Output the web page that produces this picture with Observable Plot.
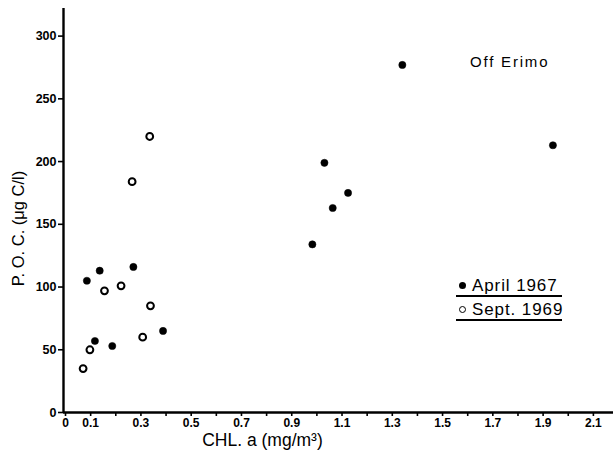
<!DOCTYPE html>
<html>
<head>
<meta charset="utf-8">
<script src="https://cdn.jsdelivr.net/npm/d3@7"></script>
<script src="https://cdn.jsdelivr.net/npm/@observablehq/plot@0.6"></script>
<style>
  html, body { margin: 0; padding: 0; background: #fff; }
  #wrap { position: relative; width: 613px; height: 462px; font-family: "Liberation Sans", "DejaVu Sans", sans-serif; }
  .note { position: absolute; color: #000; white-space: nowrap; }
  .leg { position: absolute; font-size: 17px; line-height: 18px; letter-spacing: 0.9px; border-bottom: 2px solid #000; width: 106px; white-space: nowrap; }
  .sym { display: inline-block; width: 7px; height: 7px; border-radius: 50%; margin: 0 6px 3px 3px; vertical-align: middle; box-sizing: border-box; }
</style>
</head>
<body>
<div id="wrap"></div>
<script>
// Data
const april1967Chl = [0.085, 0.136, 0.270, 0.117, 0.186, 0.388, 0.982, 1.030, 1.063, 1.124, 1.340, 1.939];
const april1967Poc = [105, 113, 116, 57, 53, 65, 134, 199, 163, 175, 277, 213];
const sept1969Chl = [0.335, 0.265, 0.155, 0.221, 0.338, 0.307, 0.097, 0.070];
const sept1969Poc = [220, 184, 97, 101, 85, 60, 50, 35];
const xTickValues = d3.range(0, 22).map(i => +(i / 10).toFixed(1));
const xTickLabels = [0, 0.1, 0.3, 0.5, 0.7, 0.9, 1.1, 1.3, 1.5, 1.7, 1.9, 2.1];
const yTickValues = [0, 50, 100, 150, 200, 250, 300];
const xLabel = "CHL. a (mg/m³)";
const yLabel = "P. O. C. (μg C/l)";
const seriesNames = ["April 1967", "Sept. 1969"];
const stationName = "Off Erimo";

const april = april1967Chl.map((x, i) => ({x, y: april1967Poc[i]}));
const sept = sept1969Chl.map((x, i) => ({x, y: sept1969Poc[i]}));

const xDomain = [-0.008, 2.18];
const yDomain = [0, 322];
const font = "Liberation Sans, DejaVu Sans, sans-serif";

const chart = Plot.plot({
  width: 613,
  height: 462,
  marginLeft: 63,
  marginRight: 0,
  marginTop: 8,
  marginBottom: 50,
  style: {fontFamily: font, background: "#fff", color: "#000", overflow: "visible"},
  x: {domain: xDomain},
  y: {domain: yDomain},
  marks: [
    Plot.ruleY([yDomain[0]], {stroke: "#000", strokeWidth: 2.4}),
    Plot.ruleX([xDomain[0]], {stroke: "#000", strokeWidth: 2.4}),
    Plot.axisX({
      ticks: xTickValues,
      tickSize: 4,
      tickPadding: 2,
      tickFormat: d => xTickLabels.some(v => Math.abs(v - d) < 1e-9) ? (d === 0 ? "0" : d3.format(".1f")(d)) : "",
      fontSize: 12,
      fontWeight: "bold",
      strokeWidth: 1.6,
      label: null
    }),
    Plot.axisY({
      ticks: yTickValues,
      tickSize: 5,
      tickPadding: 2,
      fontSize: 12.5,
      fontWeight: "bold",
      strokeWidth: 1.6,
      label: null
    }),
    Plot.text([xLabel], {frameAnchor: "bottom", textAnchor: "middle", dx: -76, dy: 33, fontSize: 17.5, fill: "#000", style: "letter-spacing: 1px"}),
    Plot.text([yLabel], {frameAnchor: "left", textAnchor: "middle", rotate: -90, dx: -45, dy: 18, fontSize: 16.5, fill: "#000", style: "letter-spacing: 0.8px"}),
    Plot.dot(april, {x: "x", y: "y", r: 3.6, fill: "#000", stroke: "#000", strokeWidth: 0.5}),
    Plot.dot(sept, {x: "x", y: "y", r: 3.4, fill: "#fff", stroke: "#000", strokeWidth: 2})
  ]
});

const wrap = document.getElementById("wrap");
wrap.appendChild(chart);

const note = document.createElement("div");
note.className = "note";
note.style.left = "470px";
note.style.top = "53px";
note.style.fontSize = "15px";
note.style.letterSpacing = "1.8px";
note.textContent = stationName;
wrap.appendChild(note);

seriesNames.forEach((name, i) => {
  const d = document.createElement("div");
  d.className = "leg";
  d.style.left = "456px";
  d.style.top = (277 + i * 24) + "px";
  const s = document.createElement("span");
  s.className = "sym";
  if (i === 0) { s.style.background = "#000"; }
  else { s.style.border = "1.6px solid #000"; s.style.background = "#fff"; }
  d.appendChild(s);
  d.appendChild(document.createTextNode(name));
  wrap.appendChild(d);
});
</script>
</body>
</html>
